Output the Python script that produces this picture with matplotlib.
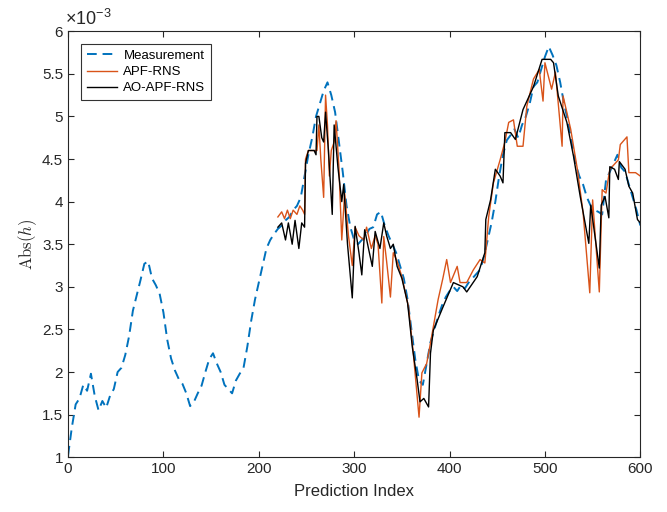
import numpy as np
import matplotlib.pyplot as plt
from matplotlib.ticker import FuncFormatter

plt.rcParams['font.family'] = ['Liberation Sans', 'DejaVu Sans']
plt.rcParams['mathtext.fontset'] = 'cm'

# measurement, sampled every 4 prediction steps (values in 1e-3)
meas_x = np.arange(0, 601, 4)
meas_y = [1.02, 1.35, 1.62, 1.69, 1.85, 1.78, 1.98, 1.72, 1.55, 1.66,
          1.58, 1.72, 1.80, 2.00, 2.05, 2.20, 2.42, 2.72, 2.90, 3.08,
          3.27, 3.30, 3.10, 3.02, 2.92, 2.70, 2.38, 2.16, 2.02, 1.92,
          1.86, 1.75, 1.60, 1.65, 1.75, 1.84, 2.00, 2.15, 2.22, 2.10,
          2.00, 1.85, 1.80, 1.75, 1.90, 1.98, 2.05, 2.30, 2.60, 2.85,
          3.05, 3.25, 3.45, 3.55, 3.62, 3.68, 3.72, 3.78, 3.82, 3.90,
          3.95, 4.05, 4.30, 4.55, 4.75, 5.00, 5.15, 5.30, 5.40, 5.25,
          5.05, 4.70, 4.35, 3.95, 3.70, 3.55, 3.50, 3.55, 3.60, 3.68,
          3.70, 3.85, 3.88, 3.72, 3.60, 3.50, 3.40, 3.25, 3.10, 2.85,
          2.50, 2.15, 1.90, 1.85, 2.10, 2.35, 2.50, 2.65, 2.78, 2.88,
          2.95, 3.00, 2.95, 3.02, 2.98, 3.05, 3.10, 3.15, 3.20, 3.35,
          3.55, 3.75, 4.00, 4.30, 4.55, 4.72, 4.78, 4.85, 4.75, 4.90,
          5.00, 5.15, 5.35, 5.40, 5.55, 5.70, 5.82, 5.72, 5.60, 5.40,
          5.15, 4.95, 4.70, 4.45, 4.30, 4.20, 4.05, 3.95, 3.90, 3.88,
          3.85, 4.25, 4.35, 4.45, 4.55, 4.40, 4.35, 4.20, 4.05, 3.90,
          3.72]

# APF-RNS prediction
apf_x = [220, 224, 227, 230, 233, 236, 240, 243, 246, 248, 249, 252, 258, 261,
         263, 265, 268, 270, 272, 274, 276, 279, 281, 284, 287, 290, 294, 298,
         301, 305, 310, 313, 318, 322, 325, 329, 331, 334, 338, 341, 345, 350,
         357, 362, 368, 371, 376, 380, 388, 393, 397, 401, 408, 411, 418, 425,
         432, 437, 441, 446, 453, 458, 462, 467, 471, 477, 481, 488, 494, 498,
         500, 507, 511, 518, 519, 527, 534, 540, 547, 550, 557, 560, 564, 568,
         577, 579, 586, 588, 595, 600]
apf_y = [3.82, 3.88, 3.80, 3.90, 3.80, 3.90, 3.85, 3.95, 3.90, 3.85, 4.50, 4.60,
         4.60, 4.60, 4.90, 4.50, 4.05, 5.25, 4.90, 4.30, 4.60, 4.70, 4.95, 4.40,
         3.55, 4.10, 3.60, 3.25, 3.70, 3.60, 3.55, 3.70, 3.45, 3.60, 3.50, 2.81,
         3.59, 3.30, 2.88, 3.40, 3.30, 3.12, 2.76, 2.22, 1.47, 1.99, 2.10, 2.34,
         2.85, 3.10, 3.32, 3.05, 3.24, 3.05, 3.05, 3.20, 3.32, 3.28, 3.82, 4.22,
         4.49, 4.70, 4.93, 4.96, 4.65, 4.65, 5.12, 5.44, 5.55, 5.18, 5.63, 5.32,
         5.52, 4.65, 5.24, 4.85, 4.38, 3.87, 2.93, 4.02, 2.94, 4.14, 4.10, 4.38,
         4.49, 4.67, 4.76, 4.34, 4.34, 4.30]

# AO-APF-RNS prediction
ao_x = [220, 224, 228, 231, 235, 238, 242, 245, 248, 249, 252, 258, 260, 261,
        263, 266, 268, 270, 273, 277, 279, 283, 287, 289, 293, 298, 301, 305,
        308, 311, 315, 319, 322, 327, 331, 334, 338, 341, 345, 350, 356, 361,
        366, 369, 373, 378, 380, 383, 393, 404, 414, 418, 429, 437, 438, 443,
        448, 453, 456, 458, 464, 469, 477, 488, 497, 506, 509, 514, 523, 530,
        537, 546, 548, 557, 559, 563, 567, 568, 573, 577, 578, 584, 588, 592,
        597, 600]
ao_y = [3.70, 3.75, 3.55, 3.75, 3.50, 3.78, 3.45, 3.75, 3.70, 4.45, 4.60, 4.60,
        4.55, 5.00, 5.00, 4.75, 4.70, 5.05, 4.60, 3.85, 4.90, 4.40, 4.00, 4.20,
        3.50, 2.87, 3.71, 3.40, 3.14, 3.67, 3.45, 3.24, 3.65, 3.45, 3.75, 3.60,
        3.45, 3.50, 3.24, 3.10, 2.81, 2.29, 1.91, 1.65, 1.69, 1.59, 2.22, 2.49,
        2.76, 3.05, 3.00, 2.94, 3.12, 3.40, 3.79, 4.02, 4.38, 4.30, 4.22, 4.81,
        4.81, 4.73, 5.08, 5.35, 5.67, 5.67, 5.63, 5.24, 4.93, 4.53, 4.06, 3.51,
        3.96, 3.22, 3.96, 4.06, 3.81, 4.41, 4.38, 4.26, 4.47, 4.38, 4.18, 4.10,
        3.79, 3.75]

fig = plt.figure(figsize=(6.67, 5.12), dpi=100)
ax = fig.add_axes([0.102, 0.107, 0.858, 0.832])

ax.plot(meas_x, np.array(meas_y) * 1e-3, color='#0072BD', lw=1.4,
        linestyle=(0, (5, 3)), label='Measurement')
ax.plot(apf_x, np.array(apf_y) * 1e-3, '-', color='#D95319', lw=1.0, label='APF-RNS')
ax.plot(ao_x, np.array(ao_y) * 1e-3, '-', color='black', lw=1.0, label='AO-APF-RNS')

ax.set_xlim(0, 600)
ax.set_ylim(1e-3, 6e-3)
ax.set_xticks(np.arange(0, 601, 100))
ax.set_yticks(np.arange(1, 6.01, 0.5) * 1e-3)
ax.yaxis.set_major_formatter(FuncFormatter(lambda v, p: '%g' % round(v * 1e3, 2)))
ax.text(-0.005, 1.006, r'$\mathdefault{\times10^{-3}}$', transform=ax.transAxes,
        fontsize=13, color='#262626', ha='left', va='bottom')

ax.tick_params(direction='in', top=True, right=True, labelsize=11,
               colors='#262626', length=4, width=0.8)
for s in ax.spines.values():
    s.set_color('#262626')
    s.set_linewidth(0.8)

ax.set_xlabel('Prediction Index', fontsize=12, color='#262626', labelpad=6)
ax.set_ylabel(r'$\mathrm{Abs}(h)$', fontsize=12, color='#262626', labelpad=2)

leg = ax.legend(loc='upper left', fontsize=9.5, fancybox=False, edgecolor='black',
                borderaxespad=1.0, handlelength=2.3, labelspacing=0.3,
                borderpad=0.4, handletextpad=0.5)
leg.get_frame().set_linewidth(0.8)

fig.savefig('out.png', dpi=100)
